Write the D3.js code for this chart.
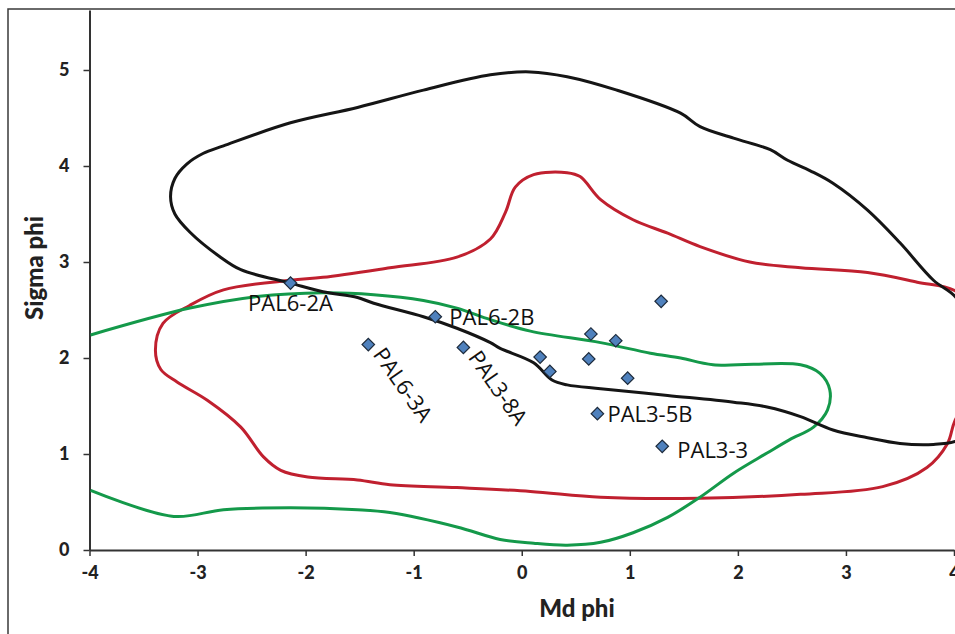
<!DOCTYPE html>
<html>
<head>
<meta charset="utf-8">
<script src="https://cdn.jsdelivr.net/npm/d3@7"></script>
<style>
  body { margin: 0; background: #fff; }
  .tick text { font-family: Lato, 'DejaVu Sans', sans-serif; font-weight: 900; }
</style>
</head>
<body>
<div id="viz"></div>
<script>
const width = 955;
const height = 634;
const plot = {left: 89.5, right: 954, top: 10, bottom: 550};

// sample points (Md phi, Sigma phi)
const sampleNames = ['PAL6-2A', 'PAL6-2B', 'PAL6-3A', 'PAL3-8A', '', '', '', '', '', '', '', 'PAL3-5B', 'PAL3-3'];
const sampleMd    = [-2.14, -0.80, -1.42, -0.54, 0.17, 0.26, 1.29, 0.64, 0.87, 0.62, 0.98, 0.70, 1.30];
const sampleSigma = [ 2.78,  2.43,  2.14,  2.11, 2.01, 1.86, 2.59, 2.25, 2.18, 1.99, 1.79, 1.42, 1.08];

// black envelope (closed)
const blackField = [
  [-3.25, 3.68], [-3.21, 3.87], [-3.10, 4.02], [-2.95, 4.13], [-2.76, 4.21], [-2.14, 4.45],
  [-1.52, 4.61], [-0.91, 4.79], [-0.29, 4.95], [0.08, 4.98], [0.42, 4.93], [0.88, 4.79],
  [1.47, 4.55], [1.65, 4.41], [1.96, 4.29], [2.30, 4.17], [2.46, 4.06], [2.67, 3.95],
  [2.88, 3.82], [3.20, 3.54], [3.50, 3.20], [3.81, 2.81], [4.01, 2.64], [4.20, 2.30],
  [4.29, 1.77], [4.20, 1.25], [4.01, 1.13], [3.81, 1.10], [3.50, 1.11], [3.20, 1.17],
  [2.88, 1.25], [2.58, 1.39], [2.27, 1.49], [1.96, 1.54], [1.35, 1.61], [0.73, 1.68],
  [0.42, 1.72], [0.28, 1.77], [0.11, 1.95], [-0.20, 2.10], [-0.29, 2.16], [-0.60, 2.31],
  [-0.91, 2.43], [-1.37, 2.57], [-1.52, 2.63], [-1.84, 2.69], [-2.14, 2.78], [-2.60, 2.92],
  [-2.80, 3.06], [-3.07, 3.31], [-3.21, 3.50]
];

// red envelope (closed)
const redField = [
  [-0.15, 3.52], [-0.06, 3.78], [0.11, 3.91], [0.42, 3.93], [0.54, 3.89], [0.73, 3.65],
  [1.03, 3.44], [1.35, 3.30], [1.65, 3.16], [2.11, 3.00], [2.58, 2.94], [3.20, 2.89],
  [3.66, 2.79], [4.01, 2.70], [4.24, 2.40], [4.29, 1.88], [4.01, 1.35], [3.94, 1.11],
  [3.75, 0.86], [3.34, 0.66], [2.58, 0.58], [1.65, 0.54], [0.73, 0.55], [0.08, 0.61],
  [-0.60, 0.65], [-1.22, 0.68], [-1.52, 0.73], [-1.98, 0.76], [-2.23, 0.83], [-2.39, 0.97],
  [-2.60, 1.28], [-2.91, 1.56], [-3.19, 1.75], [-3.34, 1.88], [-3.39, 2.08], [-3.32, 2.36],
  [-3.07, 2.55], [-2.76, 2.71], [-2.14, 2.81], [-1.84, 2.84], [-1.22, 2.94], [-0.60, 3.05],
  [-0.29, 3.24]
];

// green field (open, both ends on the left edge)
const greenField = [
  [-3.99, 2.24], [-3.07, 2.52], [-2.45, 2.64], [-1.84, 2.68], [-1.37, 2.66], [-0.91, 2.60],
  [-0.60, 2.52], [-0.29, 2.40], [0.08, 2.28], [0.73, 2.16], [1.19, 2.05], [1.47, 2.00],
  [1.77, 1.93], [2.58, 1.93], [2.76, 1.84], [2.85, 1.67], [2.83, 1.46], [2.70, 1.28],
  [2.48, 1.15], [2.27, 1.01], [1.96, 0.80], [1.65, 0.55], [1.35, 0.34], [1.03, 0.18],
  [0.73, 0.08], [0.42, 0.05], [0.11, 0.07], [-0.20, 0.11], [-0.60, 0.24], [-1.22, 0.39],
  [-1.52, 0.42], [-2.14, 0.44], [-2.76, 0.42], [-3.22, 0.35], [-3.99, 0.62]
];

const xTicks = [-4, -3, -2, -1, 0, 1, 2, 3, 4];
const yTicks = [0, 1, 2, 3, 4, 5];

// label placement (pixel offsets from the marker)
const labelLayout = {
  'PAL6-2A': {dx: 0, dy: 28, anchor: 'middle', rotate: 0},
  'PAL6-2B': {dx: 14, dy: 8, anchor: 'start', rotate: 0},
  'PAL6-3A': {dx: 4, dy: 10, anchor: 'start', rotate: 55},
  'PAL3-8A': {dx: 4, dy: 10, anchor: 'start', rotate: 55},
  'PAL3-5B': {dx: 10, dy: 8, anchor: 'start', rotate: 0},
  'PAL3-3':  {dx: 15, dy: 12, anchor: 'start', rotate: 0}
};

const svg = d3.select('#viz')
  .append('svg')
    .attr('width', width)
    .attr('height', height);

svg.append('rect')
  .attr('x', 8).attr('y', 9)
  .attr('width', 1000).attr('height', 700)
  .attr('fill', 'none')
  .attr('stroke', '#3a3a3a')
  .attr('stroke-width', 1.5);

const xScale = d3.scaleLinear().domain([-4, 4]).range([plot.left, plot.right]);
const yScale = d3.scaleLinear().domain([0, 5.625]).range([plot.bottom, plot.top]);

// axes
const xAxis = svg.append('g')
  .attr('transform', `translate(0, ${plot.bottom})`)
  .call(d3.axisBottom(xScale).tickValues(xTicks).tickSize(6).tickSizeOuter(0).tickFormat(d3.format('d')));
const yAxis = svg.append('g')
  .attr('transform', `translate(${plot.left}, 0)`)
  .call(d3.axisLeft(yScale).tickValues(yTicks).tickSize(6).tickSizeOuter(0).tickFormat(d3.format('d')));

[xAxis, yAxis].forEach(ax => {
  ax.select('.domain').attr('stroke', '#333').attr('stroke-width', 2);
  ax.selectAll('.tick line').attr('stroke', '#333').attr('stroke-width', 1.5);
  ax.selectAll('.tick text').attr('fill', '#222').style('font-size', '18px');
});
xAxis.selectAll('.tick text').attr('dy', '1.1em').text(d => d < 0 ? '-' + Math.abs(d) : d);
yAxis.selectAll('.tick text').attr('x', -20);

svg.append('text')
  .attr('x', 577).attr('y', 617)
  .attr('text-anchor', 'middle')
  .style('font-family', "Lato, 'DejaVu Sans', sans-serif")
  .style('font-weight', 900)
  .style('font-size', '24px')
  .attr('fill', '#222')
  .text('Md phi');

svg.append('text')
  .attr('transform', 'translate(43, 268) rotate(-90)')
  .attr('text-anchor', 'middle')
  .style('font-family', "Lato, 'DejaVu Sans', sans-serif")
  .style('font-weight', 900)
  .style('font-size', '24px')
  .attr('fill', '#222')
  .text('Sigma phi');

// fields
const closedLine = d3.line()
  .x(d => xScale(d[0]))
  .y(d => yScale(d[1]))
  .curve(d3.curveCatmullRomClosed.alpha(0.5));
const openLine = d3.line()
  .x(d => xScale(d[0]))
  .y(d => yScale(d[1]))
  .curve(d3.curveCatmullRom.alpha(0.5));

svg.append('path')
  .attr('d', closedLine(redField))
  .attr('fill', 'none')
  .attr('stroke', '#c0202f')
  .attr('stroke-width', 3);

svg.append('path')
  .attr('d', openLine(greenField))
  .attr('fill', 'none')
  .attr('stroke', '#14994a')
  .attr('stroke-width', 3);

svg.append('path')
  .attr('d', closedLine(blackField))
  .attr('fill', 'none')
  .attr('stroke', '#151515')
  .attr('stroke-width', 3);

// samples
const samples = sampleNames.map((name, i) => ({name, md: sampleMd[i], sigma: sampleSigma[i]}));

svg.append('g').selectAll('path').data(samples).join('path')
  .attr('d', d3.symbol(d3.symbolSquare, 78)())
  .attr('transform', d => `translate(${xScale(d.md)}, ${yScale(d.sigma)}) rotate(45)`)
  .attr('fill', '#4f81bd')
  .attr('stroke', '#1d2b3c')
  .attr('stroke-width', 1.2);

svg.append('g').selectAll('text').data(samples.filter(d => d.name)).join('text')
  .attr('transform', d => {
    const l = labelLayout[d.name];
    return `translate(${xScale(d.md) + l.dx}, ${yScale(d.sigma) + l.dy}) rotate(${l.rotate})`;
  })
  .attr('text-anchor', d => labelLayout[d.name].anchor)
  .style('font-family', "'Open Sans', sans-serif")
  .style('font-size', '22px')
  .attr('fill', '#111')
  .text(d => d.name);
</script>
</body>
</html>
